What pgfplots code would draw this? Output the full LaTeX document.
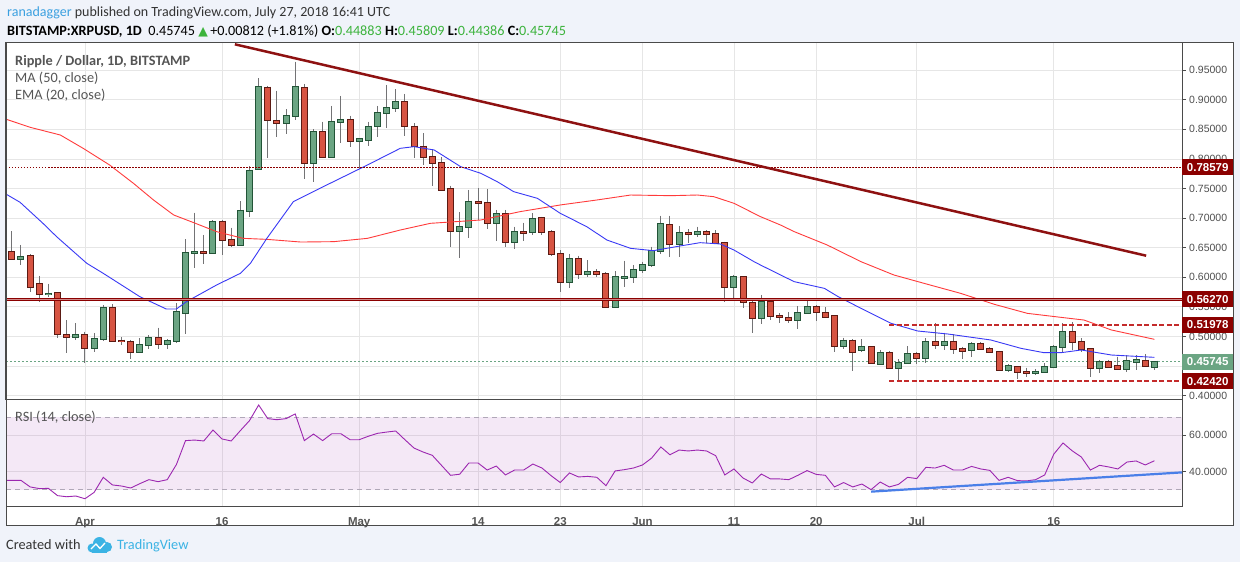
\documentclass[border=0pt]{standalone}
\usepackage{fontspec}
\setmainfont{Carlito}
\newfontfamily\lib{Liberation Sans}
\newfontfamily\dejavu{DejaVu Sans}
\usepackage{pgfplots}
\pgfplotsset{compat=1.18}
\usepackage{pgfplotstable}

\definecolor{bg}{HTML}{F0F3FA}
\definecolor{frame}{HTML}{4A4A4A}
\definecolor{gridc}{HTML}{E6E6E6}
\definecolor{link}{HTML}{3BA0E0}
\definecolor{tv}{HTML}{3BB3E4}
\definecolor{txt}{HTML}{333333}
\definecolor{lg}{HTML}{555555}
\definecolor{ticktxt}{HTML}{4F4F4F}
\definecolor{upg}{HTML}{3CB33C}
\definecolor{upfill}{HTML}{6BA583}
\definecolor{upline}{HTML}{225437}
\definecolor{dnfill}{HTML}{D75442}
\definecolor{dnline}{HTML}{5B1A13}
\definecolor{wick}{HTML}{737375}
\definecolor{maR}{HTML}{FF3B3B}
\definecolor{emaB}{HTML}{3939F5}
\definecolor{trend}{HTML}{8E1111}
\definecolor{lvl}{HTML}{8B0000}
\definecolor{lvllight}{HTML}{D08A8A}
\definecolor{dashc}{HTML}{C42B2B}
\definecolor{rsic}{HTML}{9C27B0}
\definecolor{rsitl}{HTML}{4A7FE8}
\definecolor{bandline}{HTML}{B0A8B8}

\pgfplotstableread{
d O H L C
-7 .6304 .6546 .6208 .6337
-4 .5712 .5887 .5673 .5724
-1 .4986 .5222 .4941 .5019
1 .4800 .5053 .4743 .4952
2 .4952 .5532 .4929 .5476
6 .4732 .4969 .4732 .4856
7 .4856 .5025 .4783 .4969
9 .4867 .4952 .4783 .4918
10 .4918 .5560 .4895 .5408
11 .5391 .6641 .5042 .6405
12 .6405 .7092 .6151 .6422
14 .6405 .6962 .6405 .6929
17 .6540 .7283 .6540 .7126
18 .7126 .7880 .7024 .7801
19 .7824 .9361 .7824 .9221
22 .8612 .8838 .8415 .8725
23 .8731 .9643 .8658 .9210
25 .7926 .8500 .7616 .8449
27 .8038 .8894 .8010 .8618
28 .8618 .9063 .8263 .8652
30 .8303 .8340 .7824 .8337
31 .8320 .8629 .8224 .8545
32 .8562 .8894 .8376 .8770
33 .8770 .9249 .8528 .8855
34 .8855 .9180 .8800 .8956
41 .6777 .7103 .6332 .6844
42 .6844 .7475 .6670 .7278
45 .6912 .7137 .6619 .7064
47 .6591 .6855 .6478 .6760
49 .6760 .7081 .6715 .6979
53 .5915 .6394 .5813 .6309
55 .6050 .6292 .6000 .6084
58 .5492 .6106 .5476 .6000
59 .5995 .6281 .5842 .6005
60 .6000 .6208 .5909 .6123
61 .6123 .6264 .6067 .6202
62 .6202 .6517 .6168 .6444
63 .6444 .7041 .6388 .6895
65 .6557 .6867 .6349 .6743
67 .6726 .6855 .6686 .6771
71 .5830 .6039 .5644 .6000
74 .5307 .5701 .5211 .5577
78 .5278 .5515 .5121 .5391
79 .5391 .5628 .5380 .5492
83 .4845 .4980 .4788 .4929
85 .4772 .4957 .4743 .4817
87 .4530 .4772 .4518 .4715
89 .4462 .4614 .4265 .4546
90 .4546 .4839 .4546 .4704
92 .4631 .4969 .4558 .4901
94 .4856 .5064 .4772 .4912
97 .4771 .4901 .4653 .4873
101 .4434 .4535 .4406 .4501
104 .4377 .4445 .4349 .4406
105 .4394 .4546 .4377 .4479
106 .4479 .4856 .4462 .4828
107 .4817 .5222 .4715 .5070
111 .4462 .4603 .4377 .4563
114 .4445 .4687 .4406 .4586
115 .4569 .4687 .4434 .4603
117 .4488 .4581 .4439 .4575
}\upc

\pgfplotstableread{
d O H L C
-8 .6427 .6782 .6304 .6304
-6 .6354 .6388 .5757 .5842
-5 .5881 .6022 .5588 .5712
-3 .5729 .5746 .4980 .5036
-2 .5019 .5278 .4727 .4986
0 .5019 .5081 .4558 .4800
3 .5476 .5543 .4918 .4924
4 .4930 .4986 .4856 .4918
5 .4901 .4941 .4614 .4732
8 .4969 .5149 .4783 .4867
13 .6422 .6715 .6225 .6405
15 .6940 .6962 .6371 .6624
16 .6624 .6838 .6517 .6540
20 .9204 .9232 .8010 .8652
21 .8641 .9153 .8376 .8601
24 .9193 .9266 .7655 .7937
26 .8449 .8629 .8010 .8038
29 .8652 .8731 .8207 .8303
35 .8956 .9097 .8393 .8562
36 .8545 .8601 .8010 .8224
37 .8207 .8432 .7897 .8038
38 .8027 .8162 .7548 .7926
39 .7926 .8027 .7475 .7475
40 .7486 .7548 .6517 .6777
43 .7278 .7503 .6968 .7261
44 .7250 .7492 .6810 .6912
46 .7064 .7137 .6517 .6596
48 .6760 .6923 .6619 .6743
50 .6996 .7024 .6715 .6760
51 .6760 .6799 .6366 .6388
52 .6388 .6461 .5757 .5926
54 .6309 .6366 .5966 .6050
56 .6084 .6140 .6000 .6050
57 .6050 .6084 .5492 .5492
64 .6878 .7041 .6349 .6557
66 .6743 .6810 .6574 .6726
68 .6760 .6799 .6574 .6726
69 .6726 .6799 .6574 .6574
70 .6574 .6602 .5577 .5830
72 .6000 .6000 .5476 .5577
73 .5560 .5599 .5064 .5307
75 .5577 .5605 .5278 .5340
76 .5346 .5391 .5222 .5330
77 .5318 .5408 .5222 .5278
80 .5492 .5532 .5267 .5408
81 .5391 .5492 .5324 .5335
82 .5346 .5346 .4732 .4839
84 .4929 .4952 .4423 .4743
86 .4817 .4839 .4546 .4546
88 .4715 .4755 .4462 .4473
91 .4698 .4743 .4529 .4631
93 .4901 .5222 .4788 .4856
95 .4912 .5042 .4704 .4783
96 .4783 .4828 .4620 .4760
98 .4873 .4901 .4771 .4783
99 .4783 .4817 .4715 .4732
100 .4732 .4755 .4423 .4434
102 .4490 .4490 .4276 .4394
103 .4400 .4473 .4321 .4377
108 .5070 .5239 .4772 .4901
109 .4901 .4969 .4743 .4788
110 .4783 .4783 .4321 .4462
112 .4563 .4603 .4479 .4490
113 .4501 .4659 .4445 .4456
116 .4591 .4698 .4490 .4507
}\dnc

\pgfplotsset{
  candlebar/.style n args={2}{draw=none, mark=none, forget plot,
    error bars/.cd, y dir=minus, y explicit, error mark=none,
    error bar style={draw=#1, line width=#2}},
}

\begin{document}
\begin{tikzpicture}[x=1pt,y=1pt]
\fill[bg] (0,0) rectangle (1240,-562);
\fill[white] (6,-42) rectangle (1233,-525);

% header
\node[anchor=base west, inner sep=0, font=\fontsize{14}{16}\selectfont, text=txt] at (7,-16.5)
  {\textcolor{link}{ranadagger} published on TradingView.com, July 27, 2018 16:41 UTC};
\node[anchor=base west, inner sep=0, font=\fontsize{14.2}{16}\selectfont, text=black] at (7,-35)
  {\textbf{BITSTAMP:XRPUSD, 1D}\ \ 0.45745 {\dejavu\fontsize{12.5}{13}\selectfont\textcolor{upg}{▲}}\,+0.00812 (+1.81\%) \textbf{O:}\textcolor{upg}{0.44883} \textbf{H:}\textcolor{upg}{0.45809} \textbf{L:}\textcolor{upg}{0.44386} \textbf{C:}\textcolor{upg}{0.45745}};

\begin{axis}[
  at={(6pt,-399pt)}, anchor=south west, scale only axis,
  width=1176pt, height=357pt,
  xmin=-8.64, xmax=120.02, ymin=0.3944, ymax=0.9975,
  clip=false,
  axis line style={draw=frame, line width=1pt},
  xtick={0,15,30,43,52,61,71,80,91,106}, xticklabels={},
  xtick style={draw=none},
  ytick={0.40,0.45,0.50,0.55,0.60,0.65,0.70,0.75,0.80,0.85,0.90,0.95},
  yticklabels={0.40000,0.45000,0.50000,0.55000,0.60000,0.65000,0.70000,0.75000,0.80000,0.85000,0.90000,0.95000},
  ytick pos=right, yticklabel pos=right, tick align=outside, major tick length=4pt,
  ytick style={draw=frame, line width=0.8pt},
  yticklabel style={font=\lib\fontsize{10.5}{12}\selectfont, text=ticktxt, anchor=west, inner sep=0pt, xshift=3pt},
  grid=major, major grid style={draw=gridc, line width=0.8pt},
]
% price line
\addplot[upfill, line width=0.8pt, dash pattern=on 2pt off 2pt] coordinates {(-8.64,0.45745) (120.02,0.45745)};
% wicks
\addplot[candlebar={wick}{1pt}] table[x=d, y=H, y error minus expr={\thisrow{H}-\thisrow{L}}] {\upc};
\addplot[candlebar={wick}{1pt}] table[x=d, y=H, y error minus expr={\thisrow{H}-\thisrow{L}}] {\dnc};
% bodies
\addplot[candlebar={upline}{7pt}] table[x=d, y expr={\thisrow{C}+0.0017}, y error minus expr={\thisrow{C}-\thisrow{O}+0.0034}] {\upc};
\addplot[candlebar={upfill}{5pt}] table[x=d, y=C, y error minus expr={\thisrow{C}-\thisrow{O}}] {\upc};
\addplot[candlebar={dnline}{7pt}] table[x=d, y expr={\thisrow{O}+0.0017}, y error minus expr={\thisrow{O}-\thisrow{C}+0.0034}] {\dnc};
\addplot[candlebar={dnfill}{5pt}] table[x=d, y=O, y error minus expr={\thisrow{O}-\thisrow{C}}] {\dnc};
% MA 50
\addplot[maR, line width=0.9pt] coordinates {
(-8.6,0.8669) (-6.0,0.8534) (-2.7,0.8404) (-0.2,0.8179) (2.7,0.7897) (5.3,0.7588) (7.5,0.7306)
(9.7,0.7053) (11.9,0.6923) (14.4,0.6771) (17.3,0.6658) (19.9,0.6641) (23.6,0.6596) (27.2,0.6602)
(30.9,0.6658) (34.5,0.6799) (37.8,0.6912) (43.3,0.6968) (47.6,0.7109) (52.0,0.7222) (56.0,0.7306)
(59.7,0.7390) (64.1,0.7379) (67.0,0.7390) (68.8,0.7362) (71.0,0.7250) (73.9,0.7025) (76.1,0.6883)
(77.6,0.6771) (81.2,0.6546) (84.9,0.6264) (88.5,0.6039) (92.2,0.5881) (95.8,0.5729) (99.5,0.5543)
(103.1,0.5391) (106.8,0.5323) (109.3,0.5278) (112.3,0.5110) (117,0.4952)};
% EMA 20
\addplot[emaB, line width=0.9pt] coordinates {
(-8.6,0.7402) (-7.1,0.7267) (-4.6,0.6912) (-3.1,0.6686) (0.2,0.6236) (2.0,0.6067) (6.0,0.5673)
(8.9,0.5464) (10.0,0.5464) (11.1,0.5588) (14.4,0.5870) (17.0,0.6067) (18.1,0.6236) (19.9,0.6658)
(22.8,0.7278) (25.7,0.7503) (28.3,0.7700) (30.9,0.7897) (34.5,0.8179) (36.0,0.8207) (38.2,0.8151)
(41.1,0.7869) (43.3,0.7757) (45.1,0.7616) (46.9,0.7447) (49.5,0.7334) (52.0,0.7081) (54.9,0.6855)
(57.1,0.6630) (59.7,0.6489) (62.2,0.6450) (65.1,0.6529) (67.3,0.6585) (69.5,0.6563) (71.0,0.6461)
(73.2,0.6264) (73.9,0.6208) (76.1,0.6039) (77.6,0.5926) (80.9,0.5813) (82.4,0.5673) (84.9,0.5476)
(88.2,0.5222) (91.1,0.5093) (94.4,0.5042) (99.1,0.4941) (102.4,0.4800) (104.9,0.4727) (106.8,0.4727)
(109.0,0.4772) (112.3,0.4687) (117,0.4648)};
% drawings
\addplot[lvl, line width=0.8pt, dash pattern=on 1.5pt off 1.5pt] coordinates {(-8.64,0.78579) (120.02,0.78579)};
\addplot[lvl, line width=3pt] coordinates {(-8.64,0.5627) (120.02,0.5627)};
\addplot[lvllight, line width=0.8pt] coordinates {(-8.64,0.5627) (120.02,0.5627)};
\addplot[dashc, line width=2pt, dash pattern=on 5pt off 2.5pt] coordinates {(88,0.51978) (120.02,0.51978)};
\addplot[dashc, line width=2pt, dash pattern=on 5pt off 2.5pt] coordinates {(88,0.4242) (120.02,0.4242)};
\addplot[trend, line width=2.5pt] coordinates {(16.4,0.9936) (116.1,0.6365)};
\coordinate (lA) at (axis cs:120.02,0.78579);
\coordinate (lB) at (axis cs:120.02,0.56270);
\coordinate (lC) at (axis cs:120.02,0.51978);
\coordinate (lD) at (axis cs:120.02,0.45745);
\coordinate (lE) at (axis cs:120.02,0.42420);
\end{axis}

\begin{axis}[
  at={(6pt,-506pt)}, anchor=south west, scale only axis,
  width=1176pt, height=107pt,
  xmin=-8.64, xmax=120.02, ymin=21.0, ymax=79.9,
  clip=false,
  axis line style={draw=frame, line width=1pt},
  xtick={0,15,30,43,52,61,71,80,91,106},
  xticklabels={Apr,16,May,14,23,Jun,11,20,Jul,16},
  xtick style={draw=none},
  xticklabel style={font=\lib\bfseries\fontsize{11.5}{13}\selectfont, text=lg, anchor=base, yshift=-15pt},
  ytick={40,60}, yticklabels={40.0000,60.0000},
  ytick pos=right, yticklabel pos=right, tick align=outside, major tick length=4pt,
  ytick style={draw=frame, line width=0.8pt},
  yticklabel style={font=\lib\fontsize{10.5}{12}\selectfont, text=ticktxt, anchor=west, inner sep=0pt, xshift=3pt},
  grid=major, major grid style={draw=gridc, line width=0.8pt},
]
\addplot[draw=none, fill=rsic, fill opacity=0.1] coordinates {(-8.64,30) (120.02,30) (120.02,70) (-8.64,70)} -- cycle;
\addplot[bandline, line width=0.8pt, dash pattern=on 5pt off 4pt] coordinates {(-8.64,70) (120.02,70)};
\addplot[bandline, line width=0.8pt, dash pattern=on 5pt off 4pt] coordinates {(-8.64,30) (120.02,30)};
\addplot[rsic, line width=0.9pt] coordinates {
(-8.6,35.1) (-7,35.1) (-6,31.5) (-5,30.6) (-4,30.7) (-3,26.7) (-2,26.1) (-1,26.5) (0,25.0) (1,28.5)
(2,36.8) (3,32.6) (4,32.0) (5,30.9) (6,33.3) (7,35.5) (8,34.4) (9,35.5) (10,43.8) (11,57.0)
(12,57.3) (13,56.8) (14,62.8) (15,57.9) (16,56.8) (17,62.5) (18,68.0) (19,76.6) (20,69.1) (21,68.5)
(22,69.1) (23,71.7) (24,57.0) (25,60.6) (26,57.0) (27,60.8) (28,60.8) (29,57.5) (30,57.5) (31,59.4)
(32,61.0) (33,61.7) (34,62.3) (35,57.5) (36,52.9) (37,50.7) (38,48.9) (39,43.4) (40,37.9) (41,38.5)
(42,44.7) (43,44.7) (44,40.8) (45,43.0) (46,38.1) (47,40.8) (48,40.8) (49,44.1) (50,41.9) (51,37.7)
(52,33.9) (53,39.2) (54,37.0) (55,37.3) (56,36.8) (57,32.2) (58,40.3) (59,41.0) (60,41.9) (61,43.6)
(62,47.4) (63,53.5) (64,49.2) (65,51.8) (66,51.3) (67,51.8) (68,51.3) (69,48.7) (70,38.1) (71,41.4)
(72,36.4) (73,33.7) (74,38.6) (75,35.9) (76,35.9) (77,35.5) (78,37.9) (79,40.5) (80,38.4) (81,37.9)
(82,31.5) (83,33.9) (84,31.5) (85,33.1) (86,30.0) (87,34.2) (88,31.5) (89,32.9) (90,36.8) (91,36.1)
(92,42.3) (93,41.9) (94,43.4) (95,40.8) (96,40.8) (97,42.8) (98,41.4) (99,40.6) (100,35.1) (101,36.8)
(102,35.0) (103,34.8) (104,35.5) (105,38.1) (106,49.6) (107,55.7) (108,51.4) (109,48.0) (110,40.8) (111,43.4)
(112,42.5) (113,41.4) (114,45.2) (115,45.8) (116,43.6) (117,45.9)};
\addplot[rsitl, line width=2.2pt] coordinates {(86,28.9) (120.02,39.5)};
\end{axis}

% outer frame
\draw[frame, line width=1pt] (6,-42) rectangle (1233,-525);

% price labels
\tikzset{lbl/.style={anchor=west, minimum width=51pt, minimum height=16pt, inner sep=0pt, text=white,
  font=\lib\bfseries\fontsize{11.5}{12}\selectfont}}
\node[lbl, fill=lvl] at (lA) {0.78579};
\node[lbl, fill=lvl] at (lB) {0.56270};
\node[lbl, fill=lvl] at (lC) {0.51978};
\node[lbl, fill=upfill] at (lD) {0.45745};
\node[lbl, fill=lvl] at (lE) {0.42420};

% legend texts
\node[anchor=base west, inner sep=0, font=\bfseries\fontsize{14.3}{16}\selectfont, text=lg] at (15,-65) {Ripple / Dollar, 1D, BITSTAMP};
\node[anchor=base west, inner sep=0, font=\fontsize{14.3}{16}\selectfont, text=lg] at (15,-82) {MA (50, close)};
\node[anchor=base west, inner sep=0, font=\fontsize{14.3}{16}\selectfont, text=lg] at (15,-99) {EMA (20, close)};
\node[anchor=base west, inner sep=0, font=\fontsize{14.3}{16}\selectfont, text=lg] at (15,-421) {RSI (14, close)};

% footer
\node[anchor=base west, inner sep=0, font=\fontsize{14.3}{16}\selectfont, text=txt] at (6,-549) {Created with};
\fill[tv] (92,-548) circle (4.5);
\fill[tv] (99.5,-543.5) circle (6.5);
\fill[tv] (107,-547) circle (5);
\fill[tv] (92,-552.5) rectangle (107,-548);
\draw[white, line width=1.3pt] (91,-549) -- (96,-544) -- (100,-548.5) -- (105,-543);
\node[anchor=base west, inner sep=0, font=\fontsize{14.3}{16}\selectfont, text=tv] at (117,-549) {TradingView};
\end{tikzpicture}
\end{document}
